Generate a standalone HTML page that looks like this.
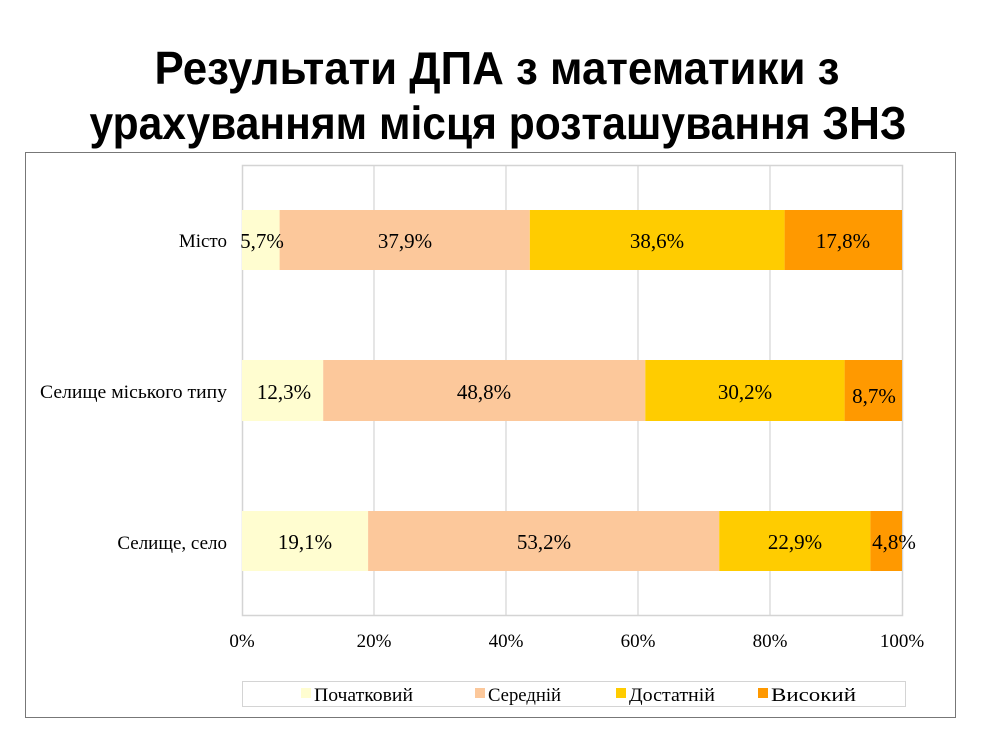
<!DOCTYPE html>
<html><head><meta charset="utf-8"><style>
html,body{margin:0;padding:0;background:#fff;}
svg{display:block;}
</style></head><body>
<svg width="996" height="741" xmlns="http://www.w3.org/2000/svg">
<rect width="996" height="741" fill="#fff"/>
<g font-family="Liberation Sans, sans-serif" font-weight="bold" font-size="46" fill="#000" text-anchor="middle">
<text x="497" y="84" textLength="685" lengthAdjust="spacingAndGlyphs">Результати ДПА з математики з</text>
<text x="498" y="139" textLength="817" lengthAdjust="spacingAndGlyphs">урахуванням місця розташування ЗНЗ</text>
</g>
<rect x="25.5" y="152.5" width="930" height="565" fill="none" stroke="#777" stroke-width="1"/>
<g stroke="#d4d4d4" stroke-width="1.2">
<line x1="374" y1="165" x2="374" y2="615"/>
<line x1="506" y1="165" x2="506" y2="615"/>
<line x1="638" y1="165" x2="638" y2="615"/>
<line x1="770" y1="165" x2="770" y2="615"/>
</g>
<rect x="242.5" y="165.5" width="660" height="450" fill="none" stroke="#d4d4d4" stroke-width="1.5"/>
<g>
<rect x="242" y="210" width="37.6" height="60" fill="#FFFDD0"/>
<rect x="279.6" y="210" width="250.2" height="60" fill="#FCC89B"/>
<rect x="529.8" y="210" width="254.8" height="60" fill="#FFCC00"/>
<rect x="784.6" y="210" width="117.4" height="60" fill="#FF9900"/>
<rect x="242" y="360" width="81.2" height="61" fill="#FFFDD0"/>
<rect x="323.2" y="360" width="322.1" height="61" fill="#FCC89B"/>
<rect x="645.3" y="360" width="199.3" height="61" fill="#FFCC00"/>
<rect x="844.6" y="360" width="57.4" height="61" fill="#FF9900"/>
<rect x="242" y="511" width="126.1" height="60" fill="#FFFDD0"/>
<rect x="368.1" y="511" width="351.1" height="60" fill="#FCC89B"/>
<rect x="719.2" y="511" width="151.2" height="60" fill="#FFCC00"/>
<rect x="870.4" y="511" width="31.6" height="60" fill="#FF9900"/>
</g>
<g font-family="Liberation Serif, serif" font-size="21" fill="#000" text-anchor="middle">
<text x="262" y="248">5,7%</text>
<text x="405" y="248">37,9%</text>
<text x="657" y="248">38,6%</text>
<text x="843" y="248">17,8%</text>
<text x="284" y="399">12,3%</text>
<text x="484" y="399">48,8%</text>
<text x="745" y="399">30,2%</text>
<text x="874" y="403">8,7%</text>
<text x="305" y="549">19,1%</text>
<text x="544" y="549">53,2%</text>
<text x="795" y="549">22,9%</text>
<text x="894" y="549">4,8%</text>
</g>
<g font-family="Liberation Serif, serif" font-size="19" fill="#000" text-anchor="end">
<text x="227" y="247">Місто</text>
<text x="227" y="398" textLength="187" lengthAdjust="spacingAndGlyphs">Селище міського типу</text>
<text x="227" y="549">Селище, село</text>
</g>
<g font-family="Liberation Serif, serif" font-size="19" fill="#000" text-anchor="middle">
<text x="242" y="647">0%</text>
<text x="374" y="647">20%</text>
<text x="506" y="647">40%</text>
<text x="638" y="647">60%</text>
<text x="770" y="647">80%</text>
<text x="902" y="647">100%</text>
</g>
<rect x="242.5" y="681.5" width="663" height="25" fill="#fff" stroke="#d4d4d4"/>
<g font-family="Liberation Serif, serif" font-size="19" fill="#000">
<rect x="301" y="688" width="10" height="10" fill="#FFFDD0"/>
<text x="314" y="701" textLength="99" lengthAdjust="spacingAndGlyphs">Початковий</text>
<rect x="475" y="688" width="10" height="10" fill="#FCC89B"/>
<text x="488" y="701" textLength="73" lengthAdjust="spacingAndGlyphs">Середній</text>
<rect x="616" y="688" width="10" height="10" fill="#FFCC00"/>
<text x="629" y="701" textLength="86" lengthAdjust="spacingAndGlyphs">Достатній</text>
<rect x="758" y="688" width="10" height="10" fill="#FF9900"/>
<text x="771" y="701" textLength="85" lengthAdjust="spacingAndGlyphs">Високий</text>
</g>
</svg>
</body></html>
